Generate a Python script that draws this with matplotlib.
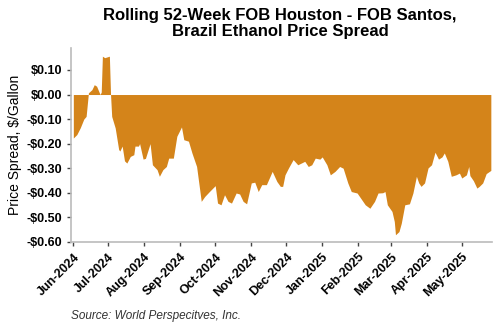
import matplotlib
matplotlib.use("Agg")
import matplotlib.pyplot as plt
import matplotlib.dates as mdates
import matplotlib.ticker as mticker
import pandas as pd

plt.rcParams['font.family'] = ['Liberation Sans', 'DejaVu Sans']

# spread readings, $/gallon
dates = [
    "2024-06-01", "2024-06-04", "2024-06-07", "2024-06-10", "2024-06-12", "2024-06-14",
    "2024-06-17", "2024-06-19", "2024-06-21", "2024-06-24", "2024-06-25", "2024-06-26",
    "2024-06-28", "2024-07-02", "2024-07-03", "2024-07-04", "2024-07-07", "2024-07-10",
    "2024-07-11", "2024-07-13", "2024-07-15", "2024-07-17", "2024-07-20", "2024-07-23",
    "2024-07-24", "2024-07-27", "2024-07-28", "2024-07-31", "2024-08-02", "2024-08-06",
    "2024-08-08", "2024-08-12", "2024-08-14", "2024-08-17", "2024-08-20", "2024-08-22",
    "2024-08-26", "2024-08-29", "2024-09-02", "2024-09-04", "2024-09-08", "2024-09-11",
    "2024-09-15", "2024-09-19", "2024-09-22", "2024-09-26", "2024-10-01", "2024-10-03",
    "2024-10-06", "2024-10-09", "2024-10-12", "2024-10-15", "2024-10-19", "2024-10-22",
    "2024-10-25", "2024-10-28", "2024-11-01", "2024-11-04", "2024-11-07", "2024-11-10",
    "2024-11-14", "2024-11-19", "2024-11-23", "2024-11-26", "2024-11-28", "2024-11-30",
    "2024-12-03", "2024-12-07", "2024-12-11", "2024-12-17", "2024-12-20", "2024-12-23",
    "2024-12-26", "2024-12-30", "2025-01-01", "2025-01-05", "2025-01-08", "2025-01-12",
    "2025-01-16", "2025-01-19", "2025-01-23", "2025-01-26", "2025-01-31", "2025-02-07",
    "2025-02-11", "2025-02-15", "2025-02-18", "2025-02-22", "2025-02-24", "2025-02-26",
    "2025-03-02", "2025-03-04", "2025-03-05", "2025-03-08", "2025-03-10", "2025-03-13",
    "2025-03-17", "2025-03-20", "2025-03-23", "2025-03-25", "2025-03-27", "2025-03-30",
    "2025-04-02", "2025-04-05", "2025-04-08", "2025-04-11", "2025-04-14", "2025-04-16",
    "2025-04-19", "2025-04-22", "2025-04-26", "2025-04-29", "2025-05-01", "2025-05-05",
    "2025-05-07", "2025-05-08", "2025-05-11", "2025-05-14", "2025-05-16", "2025-05-19",
    "2025-05-22", "2025-05-26",
]
spread = [
    -0.177, -0.163, -0.135, -0.100, -0.089, 0.007,
    0.020, 0.040, 0.034, 0.000, 0.010, 0.156,
    0.150, 0.156, 0.000, -0.089, -0.136, -0.224,
    -0.230, -0.210, -0.270, -0.279, -0.252, -0.245,
    -0.210, -0.210, -0.200, -0.263, -0.260, -0.200,
    -0.286, -0.306, -0.333, -0.306, -0.293, -0.259,
    -0.259, -0.170, -0.132, -0.184, -0.190, -0.238,
    -0.293, -0.435, -0.415, -0.395, -0.371, -0.442,
    -0.449, -0.408, -0.435, -0.442, -0.401, -0.405,
    -0.435, -0.445, -0.360, -0.357, -0.395, -0.367,
    -0.367, -0.313, -0.354, -0.374, -0.374, -0.327,
    -0.299, -0.265, -0.286, -0.272, -0.293, -0.286,
    -0.259, -0.263, -0.254, -0.286, -0.327, -0.313,
    -0.293, -0.300, -0.360, -0.395, -0.401, -0.449,
    -0.463, -0.435, -0.401, -0.400, -0.395, -0.449,
    -0.476, -0.517, -0.571, -0.558, -0.524, -0.449,
    -0.445, -0.401, -0.333, -0.360, -0.374, -0.360,
    -0.299, -0.286, -0.235, -0.263, -0.254, -0.238,
    -0.272, -0.333, -0.327, -0.320, -0.340, -0.327,
    -0.293, -0.330, -0.351, -0.381, -0.374, -0.360,
    -0.322, -0.309,
]
yticks = [0.10, 0.0, -0.10, -0.20, -0.30, -0.40, -0.50, -0.60]

x = pd.to_datetime(dates)

fig = plt.figure(figsize=(5, 3.3), dpi=100)
ax = fig.add_axes([0.142, 0.267, 0.842, 0.588])

ax.fill_between(x, spread, 0, color="#D4841A", linewidth=0)

ax.set_xlim(pd.Timestamp("2024-05-30"), pd.Timestamp("2025-05-27"))
ax.set_ylim(-0.6, 0.19)
ax.set_yticks(yticks)
ax.yaxis.set_major_formatter(mticker.FuncFormatter(
    lambda v, p: ("-$%.2f" % abs(v)) if v < -1e-9 else ("$%.2f" % abs(v))))
ax.xaxis.set_major_locator(mdates.MonthLocator())
ax.xaxis.set_major_formatter(mdates.DateFormatter("%b-%Y"))

for s in ["top", "right"]:
    ax.spines[s].set_visible(False)
for s in ["left", "bottom"]:
    ax.spines[s].set_color("#bbbbbb")
    ax.spines[s].set_linewidth(1.2)
ax.tick_params(colors="#444444", length=3, width=1, labelsize=9)
for lab in ax.get_yticklabels():
    lab.set_fontweight("bold")
    lab.set_color("black")
for lab in ax.get_xticklabels():
    lab.set_rotation(45)
    lab.set_ha("right")
    lab.set_rotation_mode("anchor")
    lab.set_fontweight("bold")
    lab.set_color("black")

ax.set_ylabel("Price Spread, $/Gallon", fontsize=10, labelpad=3)

fig.text(0.56, 0.975, "Rolling 52-Week FOB Houston - FOB Santos,\nBrazil Ethanol Price Spread",
         ha="center", va="top", fontsize=12, fontweight="bold", linespacing=1.05)
fig.text(0.142, 0.025, "Source: World Perspecitves, Inc.", fontsize=8.5,
         style="italic", color="#333333", ha="left", va="bottom")

fig.savefig("out.png", dpi=100)
